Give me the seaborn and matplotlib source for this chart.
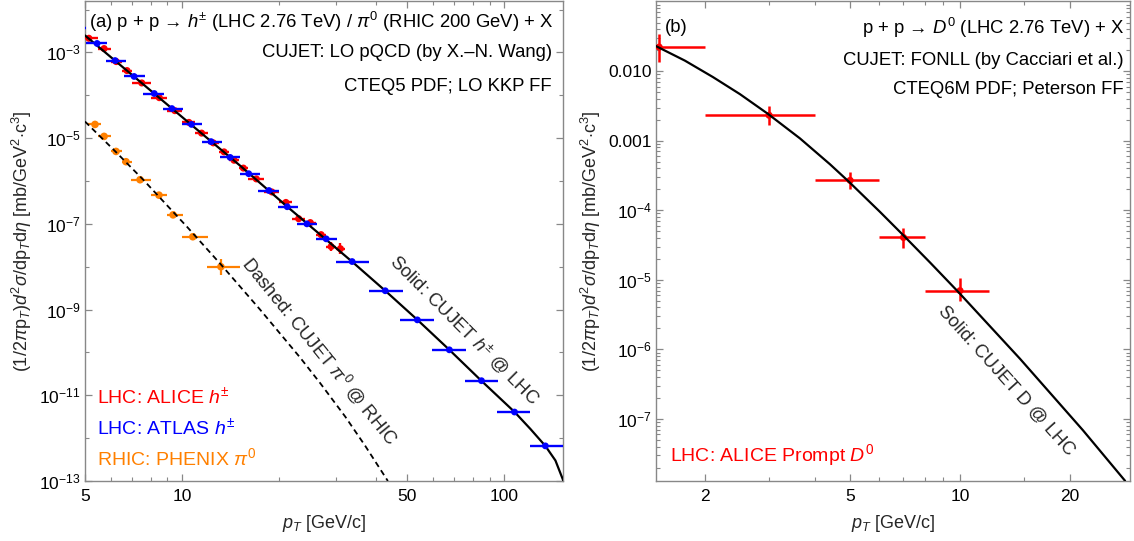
import matplotlib
matplotlib.use("Agg")
import numpy as np
import pandas as pd
import matplotlib.pyplot as plt
import seaborn as sns
from matplotlib.ticker import FixedLocator, FixedFormatter, NullFormatter

# ---------------- (a) charged hadrons / neutral pions ----------------
# ALICE h+- (pp, 2.76 TeV): bin centres, bin edges, yields, relative errors
alice_pt = [5.14, 5.73, 6.25, 6.75, 7.5, 8.5, 9.5, 10.5, 11.5, 12.5, 13.5, 14.5,
            15.5, 17.0, 19.0, 21.0, 23.0, 25.0, 27.0, 29.0, 31.0]
alice_lo = [5.0, 5.5, 6.0, 6.5, 7.0, 8.0, 9.0, 10.0, 11.0, 12.0, 13.0, 14.0,
            15.0, 16.0, 18.0, 20.0, 22.0, 24.0, 26.0, 28.0, 30.0]
alice_hi = [5.5, 6.0, 6.5, 7.0, 8.0, 9.0, 10.0, 11.0, 12.0, 13.0, 14.0, 15.0,
            16.0, 18.0, 20.0, 22.0, 24.0, 26.0, 28.0, 30.0, 32.0]
alice_y = [2.14e-3, 1.23e-3, 6.12e-4, 3.77e-4, 1.94e-4, 8.8e-5, 4.38e-5, 2.33e-5,
           1.31e-5, 7.76e-6, 4.78e-6, 3.05e-6, 2.0e-6, 1.12e-6, 5.55e-7, 3.16e-7,
           1.32e-7, 1.07e-7, 5.6e-8, 2.95e-8, 2.63e-8]
alice_rel = [0.05, 0.05, 0.05, 0.05, 0.05, 0.05, 0.06, 0.06, 0.07, 0.08, 0.08, 0.09,
             0.10, 0.10, 0.12, 0.14, 0.15, 0.15, 0.18, 0.30, 0.35]

# ATLAS h+- (pp, 2.76 TeV)
atlas_pt = [4.75, 5.45, 6.2, 7.1, 8.2, 9.3, 10.7, 12.3, 14.1, 16.1, 18.6, 21.2,
            24.4, 28.0, 33.7, 42.7, 53.7, 67.5, 84.9, 107.5, 134.0]
atlas_lo = [4.45, 5.02, 5.8, 6.6, 7.56, 8.73, 10.0, 11.5, 13.1, 15.1, 17.2, 19.9,
            22.8, 26.0, 30.1, 37.9, 47.5, 59.7, 75.7, 95.0, 119.7]
atlas_hi = [5.03, 5.85, 6.7, 7.7, 8.8, 10.07, 11.5, 13.3, 15.1, 17.4, 20.0, 22.9,
            26.3, 30.2, 38.1, 48.6, 60.6, 76.2, 95.7, 120.0, 152.0]
atlas_y = [3.63e-3, 1.62e-3, 6.46e-4, 2.75e-4, 1.10e-4, 4.90e-5, 2.09e-5, 8.3e-6,
           3.55e-6, 1.48e-6, 6.0e-7, 2.51e-7, 1.0e-7, 4.47e-8, 1.32e-8, 2.75e-9,
           5.75e-10, 1.15e-10, 2.19e-11, 4.07e-12, 6.6e-13]

# PHENIX pi0 (pp, 200 GeV)
phenix_pt = [4.75, 5.37, 5.73, 6.24, 6.70, 7.41, 8.48, 9.38, 10.8, 13.2]
phenix_lo = [4.5, 5.07, 5.5, 6.0, 6.5, 6.95, 8.0, 9.0, 10.0, 11.95]
phenix_hi = [5.0, 5.6, 6.0, 6.5, 7.0, 8.0, 9.0, 10.07, 12.0, 15.1]
phenix_y = [4.68e-5, 2.09e-5, 1.10e-5, 4.9e-6, 2.82e-6, 1.07e-6, 4.68e-7, 1.62e-7,
            5.0e-8, 1.0e-8]
phenix_rel = [0.05, 0.05, 0.05, 0.05, 0.05, 0.06, 0.07, 0.10, 0.12, 0.55]

# CUJET LO pQCD curves
h_curve_pt = [5.0, 7.09, 10.66, 15.13, 21.2, 33.7, 42.7, 53.7, 67.5, 84.9, 107.5,
              120.4, 134.0, 144.0, 152.5]
h_curve_y = [2.49e-3, 2.75e-4, 2.08e-5, 2.29e-6, 2.52e-7, 1.31e-8, 2.75e-9,
             5.78e-10, 1.15e-10, 2.17e-11, 4.09e-12, 1.64e-12, 6.58e-13, 3.01e-13,
             1.0e-13]
pi0_curve_pt = [5.0, 6.19, 7.57, 10.36, 13.21, 17.46, 23.24, 26.8, 32.1, 37.0, 43.5]
pi0_curve_y = [2.44e-5, 5.02e-6, 1.08e-6, 8.55e-8, 1.12e-8, 1.00e-9, 7.60e-11,
               1.94e-11, 3.16e-12, 6.61e-13, 1.0e-13]

# ---------------- (b) D0 mesons ----------------
d0_pt = [1.5, 3.0, 5.0, 7.0, 10.0]
d0_lo = [1.0, 2.0, 4.0, 6.0, 8.0]
d0_hi = [2.0, 4.0, 6.0, 8.0, 12.0]
d0_y = [2.22e-2, 2.32e-3, 2.69e-4, 4.06e-5, 6.98e-6]
d0_ylo = [1.35e-2, 1.66e-3, 2.0e-4, 2.9e-5, 4.9e-6]
d0_yhi = [3.4e-2, 3.16e-3, 3.6e-4, 5.5e-5, 1.05e-5]

# CUJET FONLL curve
d_curve_pt = [1.47, 1.764, 2.105, 2.496, 2.978, 3.644, 4.404, 4.965, 6.037, 6.98,
              8.278, 9.94, 14.6, 21.7, 28.3]
d_curve_y = [2.29e-2, 1.416e-2, 8.22e-3, 4.67e-3, 2.43e-3, 1.079e-3, 4.58e-4,
             2.56e-4, 9.46e-5, 4.41e-5, 1.77e-5, 6.50e-6, 7.30e-7, 6.87e-8, 1.29e-8]

# axis ticks
a_xmajor = [5, 10, 50, 100]
a_xminor = [6, 7, 8, 9, 20, 30, 40, 60, 70, 80, 90]
a_ymajor = [1e-13, 1e-11, 1e-9, 1e-7, 1e-5, 1e-3]
a_ylabels = ["$10^{-13}$", "$10^{-11}$", "$10^{-9}$", "$10^{-7}$", "$10^{-5}$", "$10^{-3}$"]
a_yminor = [1e-12, 1e-10, 1e-8, 1e-6, 1e-4, 1e-2]
b_xmajor = [2, 5, 10, 20]
b_xminor = [3, 4, 6, 7, 8, 9, 15]
b_ymajor = [1e-7, 1e-6, 1e-5, 1e-4, 1e-3, 1e-2]
b_ylabels = ["$10^{-7}$", "$10^{-6}$", "$10^{-5}$", "$10^{-4}$", "0.001", "0.010"]

# ---------------- style ----------------
sns.set_style("ticks")
plt.rcParams["font.family"] = ["Liberation Sans", "DejaVu Sans"]
plt.rcParams["mathtext.fontset"] = "custom"
plt.rcParams["mathtext.rm"] = "Liberation Sans"
plt.rcParams["mathtext.it"] = "Liberation Sans:italic"
plt.rcParams["mathtext.bf"] = "Liberation Sans:bold"
plt.rcParams["mathtext.sf"] = "Liberation Sans"

RED = "#ff0000"
BLUE = "#0000ff"
ORANGE = "#ff8000"
FRAME = "#888888"

fig = plt.figure(figsize=(11.34, 5.41), dpi=100)
W, H = 1134, 541
ax_a = fig.add_axes([85 / W, (H - 481) / H, 478 / W, 480 / H])
ax_b = fig.add_axes([656 / W, (H - 481) / H, 474 / W, 480 / H])


def style_axes(ax):
    for s in ax.spines.values():
        s.set_color(FRAME)
        s.set_linewidth(1.0)
    ax.tick_params(which="both", direction="in", top=True, right=True,
                   color=FRAME, labelcolor="black", labelsize=12.5)
    ax.tick_params(which="major", length=5, width=0.9)
    ax.tick_params(which="minor", length=2.8, width=0.8)
    ax.tick_params(axis="x", which="both", pad=6)
    ax.tick_params(axis="y", which="both", pad=3)


def error_points(ax, x, lo, hi, y, ylo, yhi, color, size, lw, z):
    x = np.asarray(x, float)
    y = np.asarray(y, float)
    xerr = [x - np.asarray(lo, float), np.asarray(hi, float) - x]
    yerr = None
    if ylo is not None:
        yerr = [y - np.asarray(ylo, float), np.asarray(yhi, float) - y]
    ax.errorbar(x, y, xerr=xerr, yerr=yerr, fmt="none", ecolor=color,
                elinewidth=lw, capsize=0, zorder=z)
    sns.scatterplot(x=x, y=y, color=color, s=size, edgecolor="none",
                    ax=ax, zorder=z + 0.5, legend=False)


def rel_bounds(y, rel):
    y = np.asarray(y, float)
    r = np.asarray(rel, float)
    return y / (1 + r), y * (1 + r)


# ---------------- panel (a) ----------------
ax = ax_a
ax.set_xscale("log")
ax.set_yscale("log")

curves_a = pd.DataFrame({"pt": h_curve_pt, "y": h_curve_y})
sns.lineplot(data=curves_a, x="pt", y="y", color="black", lw=1.6,
             sort=False, estimator=None, ax=ax, zorder=4)
curves_p = pd.DataFrame({"pt": pi0_curve_pt, "y": pi0_curve_y})
sns.lineplot(data=curves_p, x="pt", y="y", color="black", lw=1.3,
             linestyle=(0, (3.2, 2.2)), sort=False, estimator=None, ax=ax, zorder=4)

plo, phi = rel_bounds(phenix_y, phenix_rel)
error_points(ax, phenix_pt, phenix_lo, phenix_hi, phenix_y, plo, phi,
             ORANGE, 30, 1.6, 3)
alo, ahi = rel_bounds(alice_y, alice_rel)
error_points(ax, alice_pt, alice_lo, alice_hi, alice_y, alo, ahi,
             RED, 26, 1.7, 3)
error_points(ax, atlas_pt, atlas_lo, atlas_hi, atlas_y, None, None,
             BLUE, 24, 1.7, 5)

ax.set_xlim(5, 152)
ax.set_ylim(1e-13, 10 ** -1.8)
ax.xaxis.set_major_locator(FixedLocator(a_xmajor))
ax.xaxis.set_major_formatter(FixedFormatter([str(v) for v in a_xmajor]))
ax.xaxis.set_minor_locator(FixedLocator(a_xminor))
ax.xaxis.set_minor_formatter(NullFormatter())
ax.yaxis.set_major_locator(FixedLocator(a_ymajor))
ax.yaxis.set_major_formatter(FixedFormatter(a_ylabels))
ax.yaxis.set_minor_locator(FixedLocator(a_yminor))
ax.yaxis.set_minor_formatter(NullFormatter())
style_axes(ax)

ylab = (r"(1/2$\pi$p$_T$)$d^2\sigma$/dp$_T$d$\eta$ "
        r"[mb/GeV$^2$$\cdot$c$^3$]")
ax.set_xlabel(r"$p_T$ [GeV/c]", fontsize=13, labelpad=6)
ax.set_ylabel(ylab, fontsize=13, labelpad=4)

tk = dict(transform=ax.transAxes, fontsize=13.3, color="black")
ax.text(0.979, 0.956, r"(a) p + p → $h^{\pm}$ (LHC 2.76 TeV) / $\pi^0$ (RHIC 200 GeV) + X",
        ha="right", va="center", **tk)
ax.text(0.977, 0.892, "CUJET: LO pQCD (by X.–N. Wang)", ha="right", va="center", **tk)
ax.text(0.977, 0.821, "CTEQ5 PDF; LO KKP FF", ha="right", va="center", **tk)

lg = dict(transform=ax.transAxes, fontsize=14, ha="left", va="center")
ax.text(0.025, 0.175, r"LHC: ALICE $h^{\pm}$", color=RED, **lg)
ax.text(0.025, 0.110, r"LHC: ATLAS $h^{\pm}$", color=BLUE, **lg)
ax.text(0.025, 0.048, r"RHIC: PHENIX $\pi^0$", color=ORANGE, **lg)

ax.text(0.795, 0.315, r"Solid: CUJET $h^{\pm}$ @ LHC", transform=ax.transAxes,
        fontsize=13.3, rotation=-45, rotation_mode="anchor", ha="center", va="center")
ax.text(0.492, 0.271, r"Dashed: CUJET $\pi^0$ @ RHIC", transform=ax.transAxes,
        fontsize=13.3, rotation=-51, rotation_mode="anchor", ha="center", va="center")

# ---------------- panel (b) ----------------
ax = ax_b
ax.set_xscale("log")
ax.set_yscale("log")

curve_d = pd.DataFrame({"pt": d_curve_pt, "y": d_curve_y})
sns.lineplot(data=curve_d, x="pt", y="y", color="black", lw=1.6,
             sort=False, estimator=None, ax=ax, zorder=4)
error_points(ax, d0_pt, d0_lo, d0_hi, d0_y, d0_ylo, d0_yhi, RED, 26, 1.8, 3)

ax.set_xlim(1.47, 29.2)
ax.set_ylim(1.28e-8, 0.102)
ax.xaxis.set_major_locator(FixedLocator(b_xmajor))
ax.xaxis.set_major_formatter(FixedFormatter([str(v) for v in b_xmajor]))
ax.xaxis.set_minor_locator(FixedLocator(b_xminor))
ax.xaxis.set_minor_formatter(NullFormatter())
ax.yaxis.set_major_locator(FixedLocator(b_ymajor))
ax.yaxis.set_major_formatter(FixedFormatter(b_ylabels))
b_yminor = [k * 10.0 ** e for e in range(-8, 0) for k in range(2, 10)]
ax.yaxis.set_minor_locator(FixedLocator(b_yminor))
ax.yaxis.set_minor_formatter(NullFormatter())
style_axes(ax)

ax.set_xlabel(r"$p_T$ [GeV/c]", fontsize=13, labelpad=6)
ax.set_ylabel(ylab, fontsize=13, labelpad=4)

tk = dict(transform=ax.transAxes, fontsize=13.3, color="black")
ax.text(0.019, 0.944, "(b)", ha="left", va="center", **tk)
ax.text(0.989, 0.944, r"p + p → $D^0$ (LHC 2.76 TeV) + X", ha="right", va="center", **tk)
ax.text(0.987, 0.877, "CUJET: FONLL (by Cacciari et al.)", ha="right", va="center", **tk)
ax.text(0.987, 0.815, "CTEQ6M PDF; Peterson FF", ha="right", va="center", **tk)
ax.text(0.03, 0.054, r"LHC: ALICE Prompt $D^0$", transform=ax.transAxes, color=RED,
        fontsize=14, ha="left", va="center")
ax.text(0.738, 0.208, "Solid: CUJET D @ LHC", transform=ax.transAxes,
        fontsize=13.3, rotation=-48, rotation_mode="anchor", ha="center", va="center")

fig.savefig("out.png", dpi=100)
